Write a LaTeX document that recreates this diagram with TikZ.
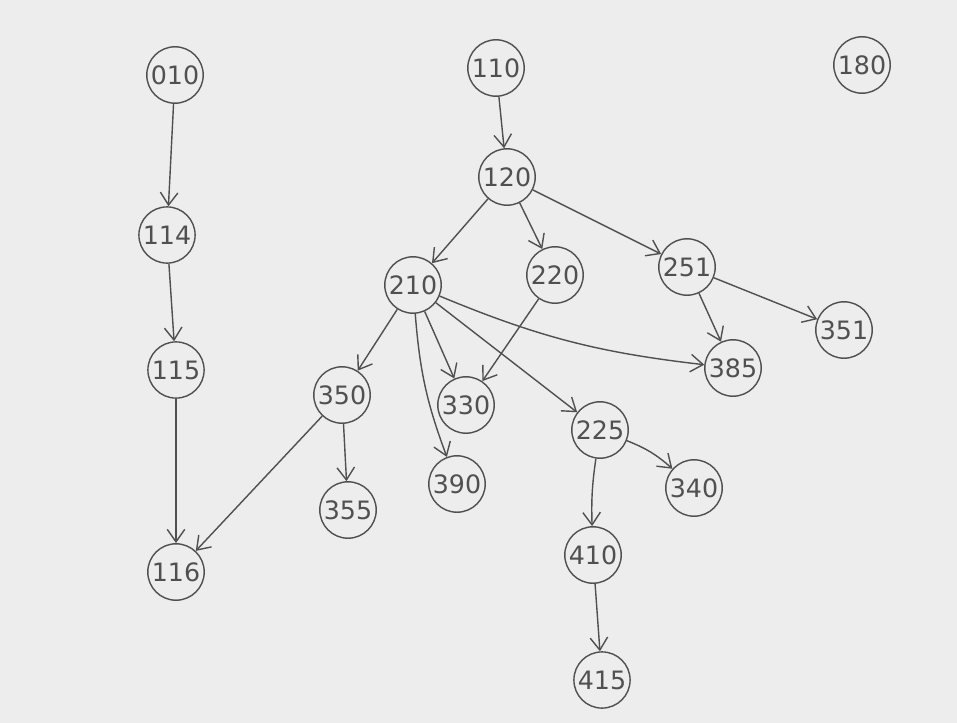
\documentclass[tikz,border=0pt]{standalone}
\usepackage{fontspec}
\setmainfont{DejaVu Sans}
\usetikzlibrary{arrows.meta, positioning}
\definecolor{pencil}{HTML}{505050}
\definecolor{paper}{HTML}{EDEDED}

\begin{document}
\begin{tikzpicture}[>={Straight Barb[length=2.5mm, width=3.5mm]}, x=0.02cm, y=-0.02cm,
    course/.style={draw=pencil, circle, thick, minimum size=1cm, inner sep=1pt, font=\Large, text=pencil},
    every path/.style={draw=pencil, thick}]
        \fill[paper, draw=none] (0,0) rectangle (957,723);

        \node[course] (C010) at (175,75) {010};
        \node[course] (C114) at (167,235) {114};
        \node[course] (C115) at (176,370) {115};
        \node[course] (C116) at (176,572) {116};

        \node[course] (C110) at (496,68) {110};
        \node[course] (C120) at (507,177) {120};
        \node[course] (C180) at (862,65) {180};

        \node[course] (C210) at (413,285) {210};
        \node[course] (C220) at (555,275) {220};
        \node[course] (C251) at (687,267) {251};
        \node[course] (C351) at (844,330) {351};
        \node[course] (C385) at (733,368) {385};

        \node[course] (C350) at (342,395) {350};
        \node[course] (C330) at (466,405) {330};
        \node[course] (C390) at (457,484) {390};
        \node[course] (C225) at (600,430) {225};
        \node[course] (C340) at (694,488) {340};
        \node[course] (C355) at (348,510) {355};
        \node[course] (C410) at (593,555) {410};
        \node[course] (C415) at (602,680) {415};

        \draw[->] (C010) -- (C114);
        \draw[->] (C114) -- (C115);
        \draw[->] (C115) -- (C116);

        \draw[->] (C110) -- (C120);
        \draw[->] (C120) -- (C210);
        \draw[->] (C120) -- (C220);
        \draw[->] (C120) -- (C251);
        \draw[->] (C251) -- (C351);
        \draw[->] (C251) -- (C385);

        \draw[->] (C210) -- (C350);
        \draw[->] (C210) -- (C330);
        \draw[->] (C210) to[bend right=8] (C390);
        \draw[->] (C210) -- (C225);
        \draw[->] (C210) to[bend right=8] (C385);
        \draw[->] (C220) -- (C330);

        \draw[->] (C350) -- (C355);
        \draw[->] (C350) -- (C116);
        \draw[->] (C225) to[bend left=10] (C340);
        \draw[->] (C225) to[bend right=5] (C410);
        \draw[->] (C410) -- (C415);
    \end{tikzpicture}
\end{document}
